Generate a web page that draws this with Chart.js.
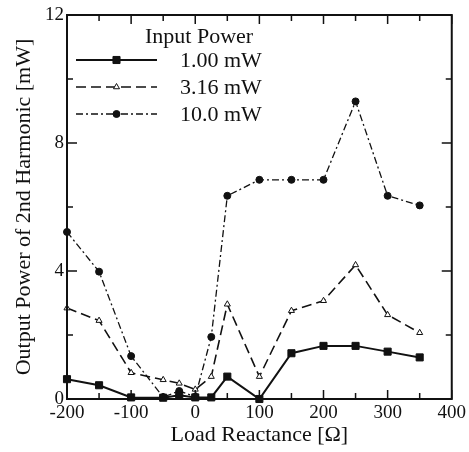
<!DOCTYPE html>
<html>
<head>
<meta charset="utf-8">
<script src="https://cdn.jsdelivr.net/npm/chart.js@4"></script>
<style>
  html, body { margin: 0; padding: 0; background: #fff; }
  #wrap { width: 469px; height: 452px; position: relative; }
</style>
</head>
<body>
<div id="wrap"><canvas id="harmonicChart"></canvas></div>
<script>
// load reactance [ohm]
const reactance = [-200, -150, -100, -50, -25, 0, 25, 50, 100, 150, 200, 250, 300, 350];
// output power of 2nd harmonic [mW]
const p1mW = [0.62, 0.43, 0.05, 0.04, 0.12, 0.05, 0.05, 0.7, 0.0, 1.43, 1.66, 1.66, 1.48, 1.3];
const p316mW = [2.84, 2.45, 0.82, 0.6, 0.49, 0.3, 0.7, 2.96, 0.7, 2.76, 3.07, 4.19, 2.63, 2.07];
const p10mW = [5.22, 3.98, 1.34, 0.06, 0.25, 0.07, 1.94, 6.35, 6.85, 6.85, 6.85, 9.3, 6.35, 6.05];
const seriesNames = ["1.00 mW", "3.16 mW", "10.0 mW"];
const legendTitle = "Input Power";
const xTickLabels = [-200, -100, 0, 100, 200, 300, 400];
const yTickLabels = [0, 4, 8, 12];

const ink = "#111";
const serif = "'Liberation Serif', 'DejaVu Serif', serif";

function toPoints(values) {
  return reactance.map((x, i) => ({ x: x, y: values[i] }));
}

// inward ticks on all four sides + frame
const frameTicks = {
  id: "frameTicks",
  afterDatasetsDraw(chart) {
    const { ctx, chartArea: a, scales } = chart;
    ctx.save();
    ctx.strokeStyle = ink;
    ctx.lineWidth = 1.5;
    ctx.beginPath();
    scales.x.ticks.forEach((t) => {
      const px = scales.x.getPixelForValue(t.value);
      const len = t.value % 100 === 0 ? 9 : 6;
      ctx.moveTo(px, a.bottom);
      ctx.lineTo(px, a.bottom - len);
      ctx.moveTo(px, a.top);
      ctx.lineTo(px, a.top + len);
    });
    scales.y.ticks.forEach((t) => {
      const py = scales.y.getPixelForValue(t.value);
      const len = t.value % 4 === 0 ? 10 : 6;
      ctx.moveTo(a.left, py);
      ctx.lineTo(a.left + len, py);
      ctx.moveTo(a.right, py);
      ctx.lineTo(a.right - len, py);
    });
    ctx.stroke();
    ctx.lineWidth = 2;
    ctx.strokeRect(a.left, a.top, a.right - a.left, a.bottom - a.top);
    ctx.restore();
  },
};

// legend box in the upper left of the plot
const insetLegend = {
  id: "insetLegend",
  afterDraw(chart) {
    const { ctx, chartArea: a } = chart;
    const x0 = a.left + 9;
    const x1 = a.left + 90;
    const xm = (x0 + x1) / 2;
    const xt = a.left + 113;
    ctx.save();
    ctx.fillStyle = ink;
    ctx.font = "22px " + serif;
    ctx.textBaseline = "middle";
    ctx.textAlign = "left";
    ctx.fillText(legendTitle, a.left + 78, a.top + 22);
    chart.data.datasets.forEach((ds, i) => {
      const y = a.top + 45 + i * 27;
      ctx.strokeStyle = ds.borderColor;
      ctx.lineWidth = ds.borderWidth;
      ctx.setLineDash(ds.borderDash || []);
      ctx.beginPath();
      ctx.moveTo(x0, y);
      ctx.lineTo(x1, y);
      ctx.stroke();
      ctx.setLineDash([]);
      ctx.fillStyle = ds.pointBackgroundColor;
      ctx.strokeStyle = ds.pointBorderColor;
      ctx.lineWidth = ds.pointBorderWidth;
      Chart.helpers.drawPoint(ctx, {
        pointStyle: ds.pointStyle,
        radius: ds.pointRadius,
        rotation: 0,
        borderWidth: ds.pointBorderWidth,
      }, xm, y);
      ctx.fillStyle = ink;
      ctx.fillText(ds.label, xt, y + 1);
    });
    ctx.restore();
  },
};

new Chart(document.getElementById("harmonicChart"), {
  type: "line",
  data: {
    datasets: [
      {
        label: seriesNames[0],
        data: toPoints(p1mW),
        clip: false,
        borderColor: ink,
        borderWidth: 2,
        pointStyle: "rect",
        pointRadius: 5,
        pointBackgroundColor: ink,
        pointBorderColor: ink,
        pointBorderWidth: 1,
      },
      {
        label: seriesNames[1],
        data: toPoints(p316mW),
        clip: false,
        borderColor: ink,
        borderWidth: 1.6,
        borderDash: [10, 5],
        pointStyle: "triangle",
        pointRadius: 3.5,
        pointBackgroundColor: "#fff",
        pointBorderColor: ink,
        pointBorderWidth: 1,
      },
      {
        label: seriesNames[2],
        data: toPoints(p10mW),
        clip: false,
        borderColor: ink,
        borderWidth: 1.3,
        borderDash: [7, 3, 2, 3],
        pointStyle: "circle",
        pointRadius: 3.5,
        pointBackgroundColor: ink,
        pointBorderColor: ink,
        pointBorderWidth: 1,
      },
    ],
  },
  options: {
    responsive: true,
    maintainAspectRatio: false,
    animation: false,
    layout: { padding: { top: 15, right: 17, left: 0, bottom: 0 } },
    plugins: {
      legend: { display: false },
      tooltip: { enabled: false },
    },
    scales: {
      x: {
        type: "linear",
        min: -200,
        max: 400,
        afterFit(scale) { scale.height = 53; },
        grid: { display: false, drawTicks: false },
        border: { display: false },
        ticks: {
          stepSize: 50,
          autoSkip: false,
          maxRotation: 0,
          padding: 3,
          color: ink,
          font: { family: serif, size: 19 },
          callback: (v) => (xTickLabels.includes(v) ? String(v) : ""),
        },
        title: {
          display: true,
          text: "Load Reactance [Ω]",
          color: ink,
          font: { family: serif, size: 22 },
          padding: { top: 4, bottom: 4 },
        },
      },
      y: {
        min: 0,
        max: 12,
        afterFit(scale) { scale.width = 67; },
        grid: { display: false, drawTicks: false },
        border: { display: false },
        ticks: {
          stepSize: 2,
          autoSkip: false,
          padding: 3,
          color: ink,
          font: { family: serif, size: 19 },
          callback: (v) => (yTickLabels.includes(v) ? String(v) : ""),
        },
        title: {
          display: true,
          text: "Output Power of 2nd Harmonic [mW]",
          color: ink,
          font: { family: serif, size: 22 },
          padding: { top: 11, bottom: 11 },
        },
      },
    },
  },
  plugins: [frameTicks, insetLegend],
});
</script>
</body>
</html>
